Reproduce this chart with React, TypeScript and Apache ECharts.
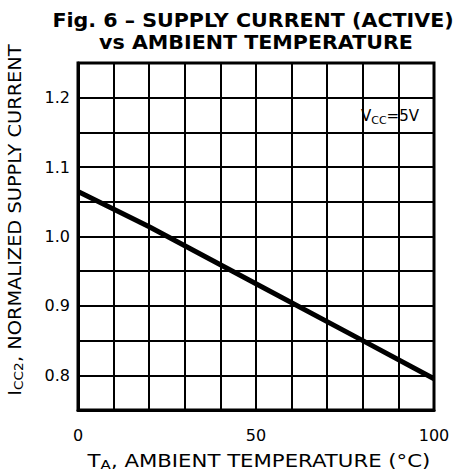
import React, { useEffect, useRef } from "react";
import * as echarts from "echarts";

const temps = [0, 20, 50, 80, 100];
const current = [1.065, 1.014, 0.932, 0.85, 0.795];
const xTickLabels = [0, 50, 100];
const yTickLabels = [0.8, 0.9, 1.0, 1.1, 1.2];
const titleLines = ["Fig. 6 – SUPPLY CURRENT (ACTIVE)", "vs AMBIENT TEMPERATURE"];

const FONT = "DejaVu Sans, sans-serif";

export default function App() {
  const ref = useRef<HTMLDivElement>(null);
  useEffect(() => {
    if (!ref.current) return;
    const chart = echarts.init(ref.current, undefined, { renderer: "svg" });
    chart.setOption({
      animation: false,
      backgroundColor: "#fff",
      textStyle: { fontFamily: FONT, color: "#000" },
      grid: {
        left: 78,
        top: 63,
        width: 356,
        height: 347,
        show: true,
        borderColor: "#000",
        borderWidth: 3,
        backgroundColor: "transparent",
      },
      xAxis: {
        type: "value",
        min: 0,
        max: 100,
        interval: 10,
        axisLine: { show: true, lineStyle: { color: "#000", width: 3 } },
        axisTick: { show: false },
        splitLine: { show: true, lineStyle: { color: "#000", width: 2 } },
        axisLabel: {
          fontSize: 16,
          color: "#000",
          fontFamily: FONT,
          margin: 17,
          formatter: (v: number) => (xTickLabels.includes(Math.round(v)) ? String(Math.round(v)) : ""),
        },
      },
      yAxis: {
        type: "value",
        min: 0.75,
        max: 1.25,
        interval: 0.05,
        axisLine: { show: true, lineStyle: { color: "#000", width: 3 } },
        axisTick: { show: false },
        splitLine: { show: true, lineStyle: { color: "#000", width: 2 } },
        axisLabel: {
          fontSize: 16,
          color: "#000",
          fontFamily: FONT,
          margin: 8,
          formatter: (v: number) => {
            const r = Math.round(v * 10) / 10;
            return Math.abs(r - v) < 1e-6 && yTickLabels.some((t) => Math.abs(t - r) < 1e-6) ? r.toFixed(1) : "";
          },
        },
      },
      series: [
        {
          type: "line",
          data: temps.map((t, i) => [t, current[i]]),
          showSymbol: false,
          symbol: "none",
          lineStyle: { color: "#000", width: 5 },
          z: 5,
        },
      ],
      graphic: [
        {
          type: "text",
          x: 253,
          y: 20,
          scaleX: 1.03,
          style: {
            text: titleLines[0],
            font: `bold 20px ${FONT}`,
            fill: "#000",
            textAlign: "center",
            textVerticalAlign: "middle",
          },
        },
        {
          type: "text",
          x: 256,
          y: 42,
          scaleX: 1.03,
          style: {
            text: titleLines[1],
            font: `bold 20px ${FONT}`,
            fill: "#000",
            textAlign: "center",
            textVerticalAlign: "middle",
          },
        },
        {
          type: "text",
          x: 361,
          y: 116,
          style: {
            text: "{n|V}{s|CC}{n|=5V}",
            textVerticalAlign: "middle",
            rich: {
              n: { fontSize: 15, fontFamily: FONT, color: "#000" },
              s: { fontSize: 11, fontFamily: FONT, color: "#000", padding: [8, 0, 0, 0] },
            },
          },
        },
        {
          type: "text",
          x: 259,
          y: 461,
          scaleX: 1.25,
          style: {
            text: "{n|T}{s|A}{n|, AMBIENT TEMPERATURE (°C)}",
            textAlign: "center",
            textVerticalAlign: "middle",
            rich: {
              n: { fontSize: 17, fontFamily: FONT, color: "#000" },
              s: { fontSize: 12, fontFamily: FONT, color: "#000", padding: [8, 0, 0, 0] },
            },
          },
        },
        {
          type: "text",
          x: 15,
          y: 220,
          rotation: Math.PI / 2,
          scaleX: 1.14,
          style: {
            text: "{n|I}{s|CC2}{n|, NORMALIZED SUPPLY CURRENT}",
            textAlign: "center",
            textVerticalAlign: "middle",
            rich: {
              n: { fontSize: 17, fontFamily: FONT, color: "#000" },
              s: { fontSize: 12, fontFamily: FONT, color: "#000", padding: [8, 0, 0, 0] },
            },
          },
        },
      ],
    });
    return () => chart.dispose();
  }, []);
  return <div ref={ref} style={{ width: 461, height: 473, position: "absolute", left: 0, top: 0 }} />;
}
